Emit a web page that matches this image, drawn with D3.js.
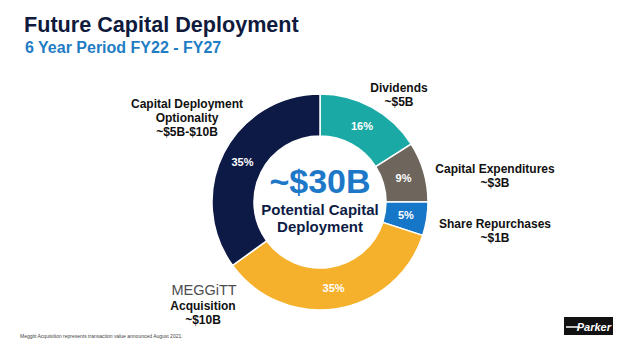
<!DOCTYPE html>
<html>
<head>
<meta charset="utf-8" />
<title>Future Capital Deployment</title>
<script src="https://d3js.org/d3.v7.min.js"></script>
<style>
  body { margin: 0; background: #fff; }
  text { font-family: "Liberation Sans", Arial, sans-serif; }
</style>
</head>
<body>
<div id="chart"></div>
<script>
// data
const categories = ["Dividends", "Capital Expenditures", "Share Repurchases", "Meggitt Acquisition", "Capital Deployment Optionality"];
const shares = [16, 9, 5, 35, 35];
const pctLabels = ["16%", "9%", "5%", "35%", "35%"];
const colors = ["#1ba9a5", "#6e665d", "#1677c8", "#f6b12c", "#0d1a45"];

const width = 640, height = 344;
const cx = 320, cy = 202, rOuter = 108, rInner = 66;

const svg = d3.select("#chart")
    .append("svg")
        .attr("width", width)
        .attr("height", height);

// title
svg.append("text").attr("x", 24).attr("y", 32)
    .style("font-size", "21.6px").style("font-weight", "bold").attr("fill", "#0f1a3c")
    .text("Future Capital Deployment");
svg.append("text").attr("x", 25).attr("y", 53)
    .style("font-size", "16px").style("font-weight", "bold").attr("fill", "#1f7dc4")
    .text("6 Year Period FY22 - FY27");

const pie = d3.pie().sort(null).value(d => d)(shares);
const arc = d3.arc().innerRadius(rInner).outerRadius(rOuter);
const labelArc = d3.arc().innerRadius((rInner + rOuter) / 2).outerRadius((rInner + rOuter) / 2);

const g = svg.append("g").attr("transform", `translate(${cx},${cy})`);

g.selectAll("path")
    .data(pie)
    .join("path")
        .attr("d", arc)
        .attr("fill", (d, i) => colors[i])
        .attr("stroke", "#fff")
        .attr("stroke-width", 1.5);

g.selectAll("text.pct")
    .data(pie)
    .join("text")
        .attr("class", "pct")
        .attr("transform", d => `translate(${labelArc.centroid(d)})`)
        .attr("text-anchor", "middle")
        .attr("dy", "0.35em")
        .style("font-size", "11px")
        .style("font-weight", "bold")
        .attr("fill", "#fff")
        .text((d, i) => pctLabels[i]);

// centre text
g.append("text").attr("y", -9).attr("text-anchor", "middle")
    .style("font-size", "34px").style("font-weight", "bold").attr("fill", "#1e78c8")
    .text("~$30B");
g.append("text").attr("y", 13).attr("text-anchor", "middle")
    .style("font-size", "15px").style("font-weight", "bold").attr("fill", "#0e1c45")
    .text("Potential Capital");
g.append("text").attr("y", 30).attr("text-anchor", "middle")
    .style("font-size", "15px").style("font-weight", "bold").attr("fill", "#0e1c45")
    .text("Deployment");

// outside labels
const outLabels = [
    {x: 399, y: 92, lines: ["Dividends", "~$5B"]},
    {x: 495, y: 173, lines: ["Capital Expenditures", "~$3B"]},
    {x: 495, y: 228, lines: ["Share Repurchases", "~$1B"]},
    {x: 203, y: 310, lines: ["Acquisition", "~$10B"]},
    {x: 187, y: 108, lines: ["Capital Deployment", "Optionality", "~$5B-$10B"]}
];
outLabels.forEach(l => {
    const t = svg.append("text")
        .attr("x", l.x).attr("y", l.y)
        .attr("text-anchor", "middle")
        .style("font-size", "12px").style("font-weight", "bold").attr("fill", "#111");
    l.lines.forEach((s, i) => {
        t.append("tspan").attr("x", l.x).attr("dy", i === 0 ? 0 : 14).text(s);
    });
});

svg.append("text").attr("x", 204).attr("y", 295).attr("text-anchor", "middle")
    .style("font-size", "14.5px").attr("fill", "#4d4d4f")
    .text("MEGGiTT");

// footnote
svg.append("text").attr("x", 20).attr("y", 338)
    .style("font-size", "5px").attr("fill", "#444")
    .text("Meggitt Acquisition represents transaction value announced August 2021.");

// Parker logo
const logo = svg.append("g");
logo.append("rect").attr("x", 564).attr("y", 317).attr("width", 49).attr("height", 18).attr("fill", "#111");
logo.append("line").attr("x1", 566).attr("x2", 580).attr("y1", 327).attr("y2", 327)
    .attr("stroke", "#fff").attr("stroke-width", 1.5);
logo.append("text").attr("x", 611).attr("y", 331).attr("text-anchor", "end")
    .style("font-size", "11px").style("font-weight", "bold").style("font-style", "italic")
    .attr("fill", "#fff").text("Parker");
</script>
</body>
</html>
